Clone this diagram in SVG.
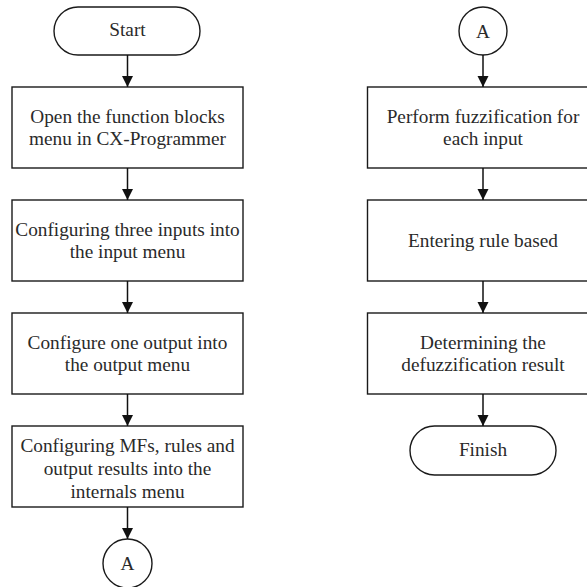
<svg xmlns="http://www.w3.org/2000/svg" width="587" height="587" viewBox="0 0 587 587">
  <style>
    .box { fill: #ffffff; stroke: #1a1a1a; stroke-width: 1.4; }
    text { font-family: "Times New Roman", "Liberation Serif", Times, serif; font-size: 19.3px; fill: #2a2a2a; text-anchor: middle; }
    .conn { stroke: #111111; stroke-width: 1.5; fill: none; marker-end: url(#arrow); }
  </style>
  <defs>
    <marker id="arrow" markerUnits="userSpaceOnUse" markerWidth="12" markerHeight="12" refX="11" refY="6" orient="auto">
      <path d="M0,0.5 L11,6 L0,11.5 z" fill="#111111"/>
    </marker>
  </defs>
  <rect width="587" height="587" fill="#ffffff"/>

  <!-- left column -->
  <g id="start">
    <rect class="box" x="54" y="7" width="146" height="48" rx="24" ry="24"/>
    <text x="127.5" y="36">Start</text>
  </g>
  <g id="open-menu">
    <rect class="box" x="12" y="87" width="231" height="81"/>
    <text x="127.5" y="122.5">Open the function blocks</text>
    <text x="127.5" y="145">menu in CX-Programmer</text>
  </g>
  <g id="config-inputs">
    <rect class="box" x="12" y="200" width="231" height="81"/>
    <text x="127.5" y="235.5">Configuring three inputs into</text>
    <text x="127.5" y="258">the input menu</text>
  </g>
  <g id="config-output">
    <rect class="box" x="12" y="313" width="231" height="81"/>
    <text x="127.5" y="348.5">Configure one output into</text>
    <text x="127.5" y="371">the output menu</text>
  </g>
  <g id="config-internals">
    <rect class="box" x="12" y="426" width="231" height="81"/>
    <text x="127.5" y="451.5">Configuring MFs, rules and</text>
    <text x="127.5" y="474.5">output results into the</text>
    <text x="127.5" y="497.5">internals menu</text>
  </g>
  <g id="connector-a-out">
    <circle class="box" cx="127.5" cy="563.5" r="24.5"/>
    <text x="127.5" y="570">A</text>
  </g>

  <!-- right column -->
  <g id="connector-a-in">
    <circle class="box" cx="483" cy="31" r="24"/>
    <text x="483" y="38">A</text>
  </g>
  <g id="fuzzification">
    <rect class="box" x="367.5" y="87" width="231" height="81"/>
    <text x="483" y="122.5">Perform fuzzification for</text>
    <text x="483" y="145">each input</text>
  </g>
  <g id="rule-base">
    <rect class="box" x="367.5" y="200" width="231" height="81"/>
    <text x="483" y="247">Entering rule based</text>
  </g>
  <g id="defuzzification">
    <rect class="box" x="367.5" y="313" width="231" height="81"/>
    <text x="483" y="348.5">Determining the</text>
    <text x="483" y="371">defuzzification result</text>
  </g>
  <g id="finish">
    <rect class="box" x="410" y="426" width="146" height="49" rx="24.5" ry="24.5"/>
    <text x="483" y="456">Finish</text>
  </g>

  <g id="connectors">
    <line class="conn" x1="127.5" y1="55" x2="127.5" y2="87"/>
    <line class="conn" x1="127.5" y1="168" x2="127.5" y2="200"/>
    <line class="conn" x1="127.5" y1="281" x2="127.5" y2="313"/>
    <line class="conn" x1="127.5" y1="394" x2="127.5" y2="426"/>
    <line class="conn" x1="127.5" y1="507" x2="127.5" y2="539"/>
    <line class="conn" x1="483" y1="55" x2="483" y2="87"/>
    <line class="conn" x1="483" y1="168" x2="483" y2="200"/>
    <line class="conn" x1="483" y1="281" x2="483" y2="313"/>
    <line class="conn" x1="483" y1="394" x2="483" y2="426"/>
  </g>
</svg>
